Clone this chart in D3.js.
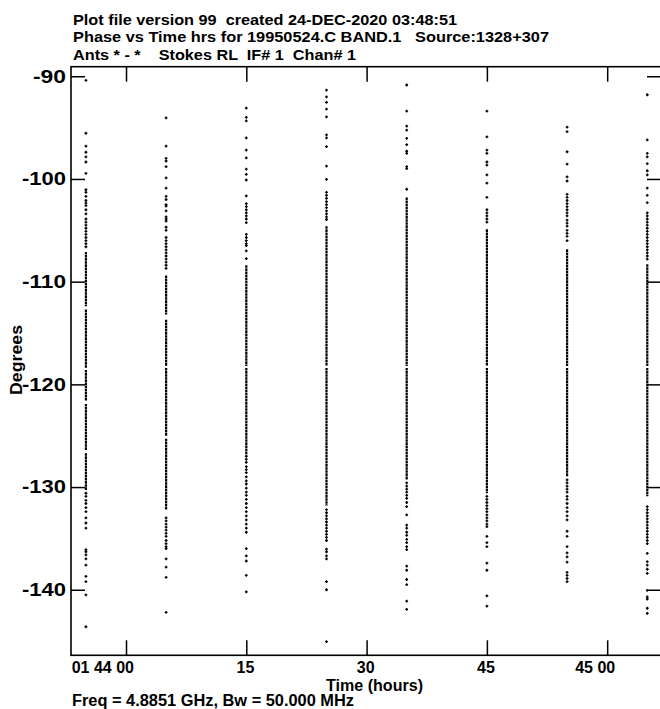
<!DOCTYPE html>
<html>
<head>
<meta charset="utf-8">
<script src="https://cdn.jsdelivr.net/npm/d3@7"></script>
<style>
  html, body { margin: 0; padding: 0; background: #fff; }
  svg { display: block; }
  text { font-family: "Liberation Sans", Arial, Helvetica, sans-serif; font-weight: bold; fill: #000; white-space: pre; }
</style>
</head>
<body>
<script>
// ---------------- data ----------------
const titleLines = [
  "Plot file version 99  created 24-DEC-2020 03:48:51",
  "Phase vs Time hrs for 19950524.C BAND.1   Source:1328+307",
  "Ants * - *    Stokes RL  IF# 1  Chan# 1"
];
const xAxisTitle = "Time (hours)";
const yAxisTitle = "Degrees";
const footnote = "Freq = 4.8851 GHz, Bw = 50.000 MHz";

const xTickValues = [0, 15, 30, 45, 60];
const xTickLabels = ["01 44 00", "15", "30", "45", "45 00"];
const yTickValues = [-90, -100, -110, -120, -130, -140];

// scan times (minutes relative to first labelled tick)
const scanTimes = [-5, 5, 15, 25, 35, 45, 55, 65];

// isolated phase points per scan (degrees)
const sparsePhase = [
  [-90.4, -95.55, -96.8, -97.4, -97.85, -98.35, -99.45, -101.05, -101.3, -101.7, -102.1, -102.35, -102.6, -103.0, -103.4,
   -103.9, -104.2, -104.5, -104.8, -105.1, -105.4, -105.7, -106.0, -106.3, -106.6,
   -130.6, -130.9, -131.3, -131.6, -132.0, -132.4, -133.0, -133.5, -134.0, -136.1, -136.3, -136.6, -137.0, -137.6,
   -138.7, -139.2, -140.5, -143.6],
  [-94.05, -96.8, -98.0, -98.25, -98.8, -99.9, -100.9, -101.7, -102.0, -102.5, -102.65, -103.1, -103.7, -103.9, -104.1,
   -104.7, -105.0, -105.7, -106.0, -106.3, -106.6, -106.9, -107.2, -107.5, -107.8, -108.1, -108.4, -108.7,
   -133.0, -133.3, -133.6, -133.9, -134.2, -134.5, -134.8, -135.2, -135.5, -135.8, -136.0, -137.0, -137.8, -138.8, -142.2],
  [-93.1, -94.0, -94.35, -96.0, -97.2, -97.95, -99.05, -99.55, -100.1, -101.65, -102.4, -102.7, -103.0, -103.3, -103.6,
   -103.9, -104.25, -105.4, -105.7, -106.0, -106.3, -106.5, -107.0, -107.75,
   -127.0, -127.3, -127.6, -128.0, -128.3, -128.6, -129.0, -129.4, -129.7, -130.1, -130.5, -130.8, -131.2, -131.6,
   -132.0, -132.4, -132.8, -133.2, -133.6, -134.0, -134.4, -136.0, -136.7, -137.2, -138.6, -140.2],
  [-91.35, -92.0, -92.55, -93.2, -93.95, -95.7, -96.0, -96.85, -98.75, -100.05, -101.3, -101.6, -101.9, -102.2, -102.5,
   -102.8, -103.1, -103.4, -103.7, -103.95,
   -132.2, -132.5, -132.8, -133.1, -133.4, -133.7, -134.0, -134.3, -134.6, -134.9, -135.2, -136.05, -136.3, -136.7,
   -137.0, -139.2, -140.0, -145.05],
  [-90.85, -93.4, -94.85, -95.25, -96.05, -96.65, -97.3, -97.5, -98.8, -99.0, -101.0,
   -129.6, -129.9, -130.2, -130.5, -130.8, -131.1, -131.5, -131.9, -132.7, -133.7, -134.0, -134.4, -134.7, -135.1,
   -135.4, -135.8, -136.1, -137.7, -138.1, -139.0, -139.5, -141.1, -141.9],
  [-93.4, -95.9, -97.2, -97.5, -98.35, -98.65, -99.6, -100.4, -101.8, -103.0, -103.3, -103.6, -103.9, -104.2,
   -130.9, -131.2, -131.5, -131.8, -132.1, -132.4, -132.7, -133.0, -133.3, -133.6, -133.85, -134.8, -135.4, -135.8,
   -137.4, -138.1, -140.6, -141.6],
  [-94.95, -95.4, -97.35, -98.55, -99.8, -100.2, -101.5, -101.8, -102.1, -102.4, -102.7, -103.0, -103.3, -103.6,
   -104.0, -104.3, -104.6, -105.0, -105.3, -105.6, -106.0,
   -129.3, -129.6, -129.9, -130.2, -130.5, -130.9, -131.2, -131.6, -132.0, -132.4, -132.8, -133.2, -134.3, -134.8,
   -135.8, -136.4, -136.8, -137.3, -138.3, -138.6, -138.9, -139.2],
  [-91.8, -96.2, -97.5, -97.85, -98.5, -99.2, -99.6, -100.9, -101.6, -102.3, -103.3, -103.6, -103.9, -104.2, -104.5,
   -104.8, -105.1, -105.4, -105.7, -106.0, -106.3, -106.6, -106.9, -107.2, -107.5, -107.8,
   -131.9, -132.2, -132.5, -132.8, -133.1, -133.4, -133.7, -134.0, -134.3, -134.6, -134.9, -135.2, -135.5, -136.45,
   -137.25, -137.6, -138.0, -138.4, -140.05, -140.7, -140.9, -141.8, -142.3]
];

// densely sampled phase runs per scan [from, to] (degrees)
const densePhase = [
  [[-107.1, -112.4], [-112.7, -118.4], [-118.6, -121.6], [-121.9, -126.4], [-126.7, -130.3]],
  [[-109.4, -113.2], [-113.7, -118.2], [-118.4, -125.0], [-125.3, -132.2]],
  [[-108.4, -118.2], [-118.4, -126.8]],
  [[-104.6, -118.2], [-118.4, -131.8]],
  [[-101.8, -118.2], [-118.4, -129.3]],
  [[-104.9, -118.2], [-118.4, -130.6]],
  [[-106.85, -118.2], [-118.4, -129.0]],
  [[-108.3, -118.2], [-118.4, -130.9]]
];

// ---------------- layout ----------------
const W = 660, H = 709;
const plot = { left: 71, right: 661, top: 66.7, bottom: 655.3 };

const svg = d3.select("body").append("svg").attr("width", W).attr("height", H);

const x = d3.scaleLinear().domain([-6.86, 66.71]).range([plot.left, plot.right]);
const y = d3.scaleLinear().domain([-146.38, -89.07]).range([plot.bottom, plot.top]);

// titles
const titleBaselines = [24.5, 42, 59.5];
const titleWidths = [384, 476, 283];
titleLines.forEach((t, i) => {
  svg.append("text").attr("x", 73).attr("y", titleBaselines[i])
    .attr("font-size", 15.5).attr("textLength", titleWidths[i]).attr("lengthAdjust", "spacingAndGlyphs")
    .text(t);
});

// frame
const g = svg.append("g");
g.append("rect").attr("x", plot.left).attr("y", plot.top)
  .attr("width", plot.right - plot.left).attr("height", plot.bottom - plot.top)
  .attr("fill", "none").attr("stroke", "#000").attr("stroke-width", 1.6);

// axes via d3 axis generators
const tickLen = 14;
const leftAxis = d3.axisRight(y).tickValues(yTickValues).tickSize(tickLen).tickFormat("");
const rightAxis = d3.axisLeft(y).tickValues(yTickValues).tickSize(tickLen).tickFormat("");
const topAxis = d3.axisBottom(x).tickValues(xTickValues).tickSize(15).tickFormat("");
const bottomAxis = d3.axisTop(x).tickValues(xTickValues).tickSize(15).tickFormat("");

function styleAxis(sel) {
  sel.select(".domain").remove();
  sel.selectAll(".tick line").attr("stroke", "#000").attr("stroke-width", 1.5);
}
g.append("g").attr("transform", `translate(${plot.left},0)`).call(leftAxis).call(styleAxis);
g.append("g").attr("transform", `translate(${plot.right},0)`).call(rightAxis).call(styleAxis);
g.append("g").attr("transform", `translate(0,${plot.top})`).call(topAxis).call(styleAxis);
g.append("g").attr("transform", `translate(0,${plot.bottom})`).call(bottomAxis).call(styleAxis);

// y tick labels
svg.append("g").selectAll("text").data(yTickValues).join("text")
  .attr("x", 66).attr("y", d => y(d)).attr("dy", "0.36em")
  .attr("text-anchor", "end").attr("font-size", 17.5)
  .attr("textLength", d => String(d).length * 11).attr("lengthAdjust", "spacingAndGlyphs")
  .text(d => String(d));

// x tick labels: last two-digit group centred on tick
svg.append("g").selectAll("text").data(xTickValues).join("text")
  .attr("x", d => x(d) + 8).attr("y", 672.5)
  .attr("text-anchor", "end").attr("font-size", 16)
  .text((d, i) => xTickLabels[i]);

// axis titles
svg.append("text").attr("x", 374.5).attr("y", 691).attr("text-anchor", "middle")
  .attr("font-size", 16).attr("textLength", 97).attr("lengthAdjust", "spacingAndGlyphs").text(xAxisTitle);
svg.append("text").attr("transform", "translate(22,360) rotate(-90)").attr("text-anchor", "middle")
  .attr("font-size", 16.5).attr("textLength", 70).attr("lengthAdjust", "spacingAndGlyphs").text(yAxisTitle);
svg.append("text").attr("x", 72).attr("y", 706).attr("font-size", 16)
  .attr("textLength", 282).attr("lengthAdjust", "spacingAndGlyphs").text(footnote);

// data marks
const clip = svg.append("clipPath").attr("id", "clip").append("rect")
  .attr("x", plot.left).attr("y", plot.top).attr("width", plot.right - plot.left).attr("height", plot.bottom - plot.top);
const marks = svg.append("g").attr("clip-path", "url(#clip)");

scanTimes.forEach((t, i) => {
  const cx = x(t);
  marks.append("g").selectAll("line").data(densePhase[i]).join("line")
    .attr("x1", cx).attr("x2", cx)
    .attr("y1", d => y(d[0])).attr("y2", d => y(d[1]))
    .attr("stroke", "#000").attr("stroke-width", 2.2)
    .attr("stroke-dasharray", "2.6,0.5");
  marks.append("g").selectAll("path").data(sparsePhase[i]).join("path")
    .attr("d", d => `M${cx - 1.4},${y(d)}h2.8M${cx},${y(d) - 1.4}v2.8`)
    .attr("stroke", "#000").attr("stroke-width", 1.3);
});
</script>
</body>
</html>
